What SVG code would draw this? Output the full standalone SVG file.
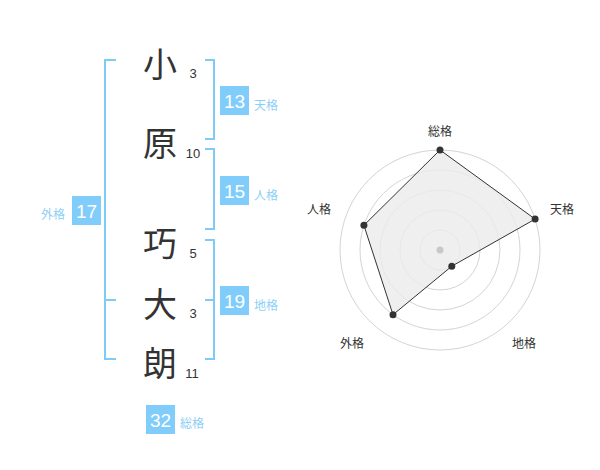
<svg xmlns="http://www.w3.org/2000/svg" width="600" height="470" viewBox="0 0 600 470">
<style>
.ch{font-family:"Noto Sans CJK JP","Noto Sans CJK SC",sans-serif;font-size:34px;fill:#333;text-anchor:middle;dominant-baseline:central}
.st{font-family:"Liberation Sans",Arial,sans-serif;font-size:13px;fill:#333;text-anchor:middle;dominant-baseline:central}
.br{fill:none;stroke:#7fcbf7;stroke-width:2}
.bx{fill:#80cdfb}
.bn{font-family:"Liberation Sans",Arial,sans-serif;font-size:19px;fill:#fff;text-anchor:middle;dominant-baseline:central}
.bl{font-family:"Noto Sans CJK JP","Noto Sans CJK SC",sans-serif;font-size:12px;fill:#8ccff6;dominant-baseline:central}
.rl{font-family:"Noto Sans CJK JP","Noto Sans CJK SC",sans-serif;font-size:12px;fill:#333;text-anchor:middle;dominant-baseline:central}
.ring{fill:none;stroke:#d4d4d4;stroke-width:1}
.pt{fill:#333}
</style>
<g id="chars">
<text class="ch" x="160" y="62">小</text>
<text class="ch" x="160" y="141">原</text>
<text class="ch" x="160" y="241">巧</text>
<text class="ch" x="160" y="302">大</text>
<text class="ch" x="160" y="361">朗</text>
<text class="st" x="193" y="73">3</text>
<text class="st" x="193" y="153">10</text>
<text class="st" x="193" y="253">5</text>
<text class="st" x="193" y="313">3</text>
<text class="st" x="192" y="373">11</text>
</g>
<g id="connectors">
<path class="br" d="M116,60 H105 V359 H116 M105,300 H116"/>
<path class="br" d="M205,60 H214 V139 H205"/>
<path class="br" d="M205,149 H214 V229 H205"/>
<path class="br" d="M205,240 H214 V359 H205 M214,300 H205"/>
</g>
<g id="tenkaku">
<rect class="bx" x="220" y="86" width="29" height="29"/>
<text class="bn" x="234.5" y="101">13</text>
<text class="bl" x="254" y="104">天格</text>
</g>
<g id="jinkaku">
<rect class="bx" x="220" y="176" width="29" height="29"/>
<text class="bn" x="234.5" y="191">15</text>
<text class="bl" x="254" y="194">人格</text>
</g>
<g id="gaikaku">
<rect class="bx" x="72" y="196" width="29" height="29"/>
<text class="bn" x="86.5" y="211">17</text>
<text class="bl" x="41" y="213">外格</text>
</g>
<g id="chikaku">
<rect class="bx" x="220" y="286" width="29" height="29"/>
<text class="bn" x="234.5" y="301">19</text>
<text class="bl" x="254" y="304">地格</text>
</g>
<g id="soukaku">
<rect class="bx" x="146" y="405" width="29" height="29"/>
<text class="bn" x="160.5" y="420">32</text>
<text class="bl" x="180" y="422">総格</text>
</g>
<g id="radar">
<circle class="ring" cx="440" cy="250" r="20"/>
<circle class="ring" cx="440" cy="250" r="40"/>
<circle class="ring" cx="440" cy="250" r="60"/>
<circle class="ring" cx="440" cy="250" r="80"/>
<circle class="ring" cx="440" cy="250" r="100"/>
<polygon points="440,150 535.1,219.1 451.8,266.2 393,314.7 363.9,225.3" fill="#ebebeb" fill-opacity="0.8" stroke="#333" stroke-width="1"/>
<circle cx="440" cy="250" r="3.5" fill="#c8c8c8"/>
<circle class="pt" cx="440" cy="150" r="3.5"/>
<circle class="pt" cx="535.1" cy="219.1" r="3.5"/>
<circle class="pt" cx="451.8" cy="266.2" r="3.5"/>
<circle class="pt" cx="393" cy="314.7" r="3.5"/>
<circle class="pt" cx="363.9" cy="225.3" r="3.5"/>
<text class="rl" x="440" y="130">総格</text>
<text class="rl" x="562" y="208">天格</text>
<text class="rl" x="524" y="342">地格</text>
<text class="rl" x="352" y="342">外格</text>
<text class="rl" x="319" y="208">人格</text>
</g>
</svg>
